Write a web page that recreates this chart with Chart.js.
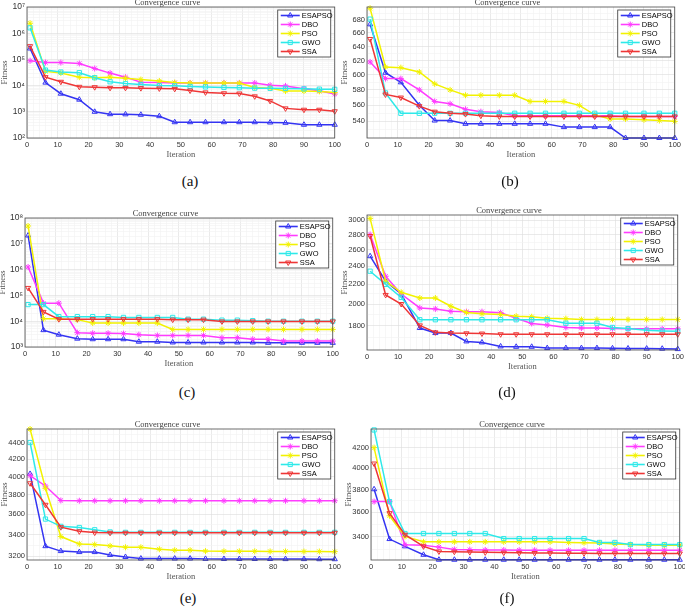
<!DOCTYPE html>
<html>
<head>
<meta charset="utf-8">
<title>Convergence curves</title>
<script src="https://cdn.jsdelivr.net/npm/chart.js"></script>
<style>
    body { margin: 0; width: 685px; height: 609px; overflow: hidden; background: #fff; position: relative; }
    .panel { position: absolute; }
    .cap { position: absolute; font-family: "Liberation Serif", "Times New Roman", serif; font-size: 15px; color: #111; transform: translate(-50%, -50%); }
</style>
</head>
<body>
<script>
// iterations where the curves are sampled (markers)
let iterations = [1, 6, 11, 17, 22, 27, 32, 37, 43, 48, 53, 58, 64, 69, 74, 79, 84, 90, 95, 100];
let algorithms = ['ESAPSO', 'DBO', 'PSO', 'GWO', 'SSA'];
let xTicks = [0, 10, 20, 30, 40, 50, 60, 70, 80, 90, 100];

// (a)
let aESAPSO = [2.6e5, 1.3e4, 4.9e3, 2.9e3, 1.0e3, 8.1e2, 8.0e2, 7.7e2, 6.8e2, 4.0e2, 4.0e2, 4.0e2, 4.0e2, 4.0e2, 4.0e2, 3.9e2, 3.8e2, 3.2e2, 3.2e2, 3.2e2];
let aDBO    = [8.9e4, 7.6e4, 7.6e4, 7.0e4, 4.5e4, 3.0e4, 2.1e4, 1.35e4, 1.3e4, 1.27e4, 1.27e4, 1.27e4, 1.27e4, 1.27e4, 1.25e4, 1.03e4, 9.7e3, 7.6e3, 6.3e3, 4.8e3];
let aPSO    = [2.4e6, 3.5e4, 3.0e4, 2.1e4, 2.0e4, 2.1e4, 1.9e4, 1.7e4, 1.5e4, 1.3e4, 1.25e4, 1.25e4, 1.25e4, 1.25e4, 8.5e3, 8.0e3, 6.2e3, 6.2e3, 6.0e3, 5.5e3];
let aGWO    = [1.6e6, 3.9e4, 3.3e4, 3.1e4, 2.0e4, 1.4e4, 1.2e4, 1.1e4, 1.0e4, 9.8e3, 9.3e3, 8.9e3, 8.5e3, 8.3e3, 8.0e3, 7.9e3, 7.8e3, 7.5e3, 7.3e3, 7.2e3];
let aSSA    = [3.2e5, 2.1e4, 1.4e4, 9.0e3, 8.7e3, 8.2e3, 8.2e3, 8.0e3, 7.8e3, 7.5e3, 6.5e3, 5.5e3, 5.1e3, 5.0e3, 3.9e3, 2.6e3, 1.35e3, 1.2e3, 1.2e3, 1.05e3];
let aTicks  = [1e2, 1e3, 1e4, 1e5, 1e6, 1e7];

// (b)
let bESAPSO = [673, 603, 590, 560, 541, 541, 537, 537, 537, 537, 537, 537, 533, 533, 533, 533, 520, 520, 520, 520];
let bDBO    = [618, 595, 595, 580, 565, 562, 555, 552, 551, 547, 547, 547, 547, 547, 547, 547, 546, 546, 546, 546];
let bPSO    = [698, 611, 610, 604, 588, 580, 573, 573, 573, 573, 565, 565, 565, 560, 548, 543, 543, 542, 541, 540];
let bGWO    = [681, 576, 550, 550, 550, 550, 550, 550, 550, 550, 550, 550, 550, 550, 550, 550, 550, 550, 550, 550];
let bSSA    = [651, 574, 570, 559, 552, 550, 549, 547, 546, 546, 546, 546, 546, 546, 546, 546, 546, 546, 546, 546];
let bTicks  = [540, 560, 580, 600, 620, 640, 660, 680];

// (c)
let cESAPSO = [2.1e7, 4.5e3, 3.0e3, 2.1e3, 2.0e3, 2.0e3, 2.0e3, 1.6e3, 1.6e3, 1.5e3, 1.5e3, 1.5e3, 1.5e3, 1.5e3, 1.5e3, 1.45e3, 1.45e3, 1.45e3, 1.45e3, 1.45e3];
let cDBO    = [1.26e6, 5.0e4, 5.0e4, 3.6e3, 3.4e3, 3.4e3, 3.3e3, 3.0e3, 2.8e3, 2.8e3, 2.8e3, 2.8e3, 2.3e3, 2.3e3, 2.0e3, 2.0e3, 1.7e3, 1.7e3, 1.7e3, 1.7e3];
let cPSO    = [4.9e7, 1.25e4, 1.25e4, 1.15e4, 8.5e3, 8.5e3, 8.5e3, 8.5e3, 8.5e3, 4.8e3, 4.8e3, 4.8e3, 4.8e3, 4.8e3, 4.8e3, 4.8e3, 4.8e3, 4.8e3, 4.8e3, 4.8e3];
let cGWO    = [4.4e4, 4.4e4, 1.5e4, 1.5e4, 1.5e4, 1.5e4, 1.4e4, 1.4e4, 1.4e4, 1.4e4, 1.2e4, 1.2e4, 1.1e4, 1.1e4, 1.05e4, 1.0e4, 1.0e4, 1.0e4, 1.0e4, 1.0e4];
let cSSA    = [1.95e5, 2.3e4, 1.2e4, 1.2e4, 1.2e4, 1.2e4, 1.2e4, 1.2e4, 1.2e4, 1.15e4, 1.15e4, 1.15e4, 9.8e3, 9.8e3, 9.8e3, 9.8e3, 9.8e3, 9.8e3, 9.8e3, 9.8e3];
let cTicks  = [1e3, 1e4, 1e5, 1e6, 1e7, 1e8];

// (d)
let dESAPSO = [2522, 2234, 2099, 1780, 1737, 1737, 1668, 1660, 1628, 1625, 1625, 1615, 1615, 1615, 1615, 1613, 1612, 1611, 1610, 1607];
let dDBO    = [2802, 2288, 2099, 1962, 1953, 1930, 1927, 1927, 1918, 1866, 1820, 1806, 1785, 1780, 1780, 1775, 1773, 1773, 1773, 1773];
let dPSO    = [3030, 2234, 2117, 2059, 2059, 1978, 1920, 1908, 1900, 1885, 1880, 1866, 1863, 1855, 1855, 1855, 1855, 1855, 1855, 1855];
let dGWO    = [2345, 2200, 2065, 1853, 1853, 1853, 1853, 1853, 1853, 1853, 1853, 1853, 1822, 1822, 1822, 1785, 1775, 1760, 1755, 1752];
let dSSA    = [2782, 2090, 2000, 1803, 1743, 1737, 1735, 1733, 1727, 1727, 1727, 1727, 1727, 1727, 1727, 1727, 1727, 1727, 1727, 1727];
let dTicks  = [1800, 2000, 2200, 2400, 2600, 2800, 3000];

// (e)
let eESAPSO = [4029, 3290, 3245, 3236, 3236, 3210, 3192, 3178, 3178, 3178, 3178, 3175, 3174, 3174, 3174, 3174, 3173, 3173, 3172, 3172];
let eDBO    = [4010, 3895, 3740, 3737, 3737, 3737, 3737, 3737, 3737, 3737, 3737, 3737, 3737, 3737, 3737, 3737, 3737, 3737, 3737, 3737];
let ePSO    = [4570, 3870, 3380, 3311, 3305, 3293, 3280, 3280, 3262, 3253, 3253, 3245, 3243, 3243, 3243, 3242, 3242, 3241, 3241, 3240];
let eGWO    = [4400, 3550, 3478, 3467, 3445, 3424, 3420, 3420, 3420, 3420, 3420, 3420, 3420, 3420, 3420, 3420, 3420, 3420, 3420, 3420];
let eSSA    = [3925, 3695, 3470, 3430, 3418, 3416, 3416, 3416, 3416, 3416, 3416, 3416, 3416, 3416, 3416, 3416, 3416, 3416, 3416, 3416];
let eTicks  = [3200, 3400, 3600, 3800, 4000, 4200, 4400];

// (f)
let fESAPSO = [3804, 3379, 3321, 3255, 3217, 3217, 3217, 3217, 3217, 3217, 3217, 3217, 3217, 3217, 3217, 3217, 3217, 3217, 3217, 3217];
let fDBO    = [3694, 3694, 3334, 3330, 3315, 3297, 3295, 3293, 3292, 3291, 3291, 3290, 3290, 3290, 3290, 3290, 3290, 3290, 3290, 3290];
let fPSO    = [4200, 3571, 3400, 3357, 3357, 3357, 3357, 3357, 3357, 3357, 3357, 3357, 3352, 3350, 3348, 3340, 3335, 3330, 3330, 3330];
let fGWO    = [4380, 3694, 3424, 3424, 3424, 3424, 3424, 3424, 3383, 3383, 3383, 3383, 3383, 3383, 3352, 3352, 3335, 3335, 3335, 3335];
let fSSA    = [4044, 3594, 3414, 3321, 3281, 3279, 3276, 3274, 3272, 3270, 3269, 3268, 3267, 3267, 3266, 3266, 3265, 3265, 3265, 3265];
let fTicks  = [3400, 3600, 3800, 4000, 4200];

// line / marker look per algorithm
let styles = {
    ESAPSO: { color: '#3434f2', point: 'triangle', rot: 0 },
    DBO:    { color: '#ff3cff', point: 'star',     rot: 0 },
    PSO:    { color: '#f2f200', point: 'star',     rot: 0 },
    GWO:    { color: '#2ee9e9', point: 'rect',     rot: 0 },
    SSA:    { color: '#ee3636', point: 'triangle', rot: 180 }
};

// plot area of each panel (L, R, T, B) and y range, caption position
let panels = [
    { cap: '(a)', series: [aESAPSO, aDBO, aPSO, aGWO, aSSA], ticks: aTicks, decades: true,  min: 100,  max: 1e7,  L: 27,  R: 335, T: 7,   B: 138, cx: 190, cy: 181 },
    { cap: '(b)', series: [bESAPSO, bDBO, bPSO, bGWO, bSSA], ticks: bTicks, decades: false, min: 520,  max: 700,  L: 367, R: 675, T: 7,   B: 138, cx: 510, cy: 181 },
    { cap: '(c)', series: [cESAPSO, cDBO, cPSO, cGWO, cSSA], ticks: cTicks, decades: true,  min: 1e3,  max: 1e8,  L: 25,  R: 333, T: 218, B: 347, cx: 187, cy: 392 },
    { cap: '(d)', series: [dESAPSO, dDBO, dPSO, dGWO, dSSA], ticks: dTicks, decades: false, min: 1600, max: 3080, L: 367, R: 678, T: 215, B: 350, cx: 507, cy: 392 },
    { cap: '(e)', series: [eESAPSO, eDBO, ePSO, eGWO, eSSA], ticks: eTicks, decades: false, min: 3165, max: 4570, L: 27,  R: 335, T: 429, B: 560, cx: 188, cy: 598 },
    { cap: '(f)', series: [fESAPSO, fDBO, fPSO, fGWO, fSSA], ticks: fTicks, decades: false, min: 3215, max: 4390, L: 371, R: 680, T: 429, B: 560, cx: 507, cy: 598 }
];

const serif = '"Liberation Serif", "Times New Roman", serif';
const sans = '"Liberation Sans", Arial, sans-serif';
Chart.defaults.font.family = sans;
Chart.defaults.color = '#333';

const supDigits = { '0': '⁰', '1': '¹', '2': '²', '3': '³', '4': '⁴', '5': '⁵', '6': '⁶', '7': '⁷', '8': '⁸', '9': '⁹' };
function powerLabel(v) {
    let e = String(Math.round(Math.log10(v)));
    return '10' + e.split('').map(c => supDigits[c]).join('');
}

// major ticks from the arrays, minor ones in between (only for the grid)
function tickList(major, min, max, decades) {
    let out = major.map(v => ({ value: v, major: true }));
    if (decades) {
        for (let i = 0; i < major.length - 1; i++)
            for (let k = 2; k < 10; k++) out.push({ value: major[i] * k, major: false });
    } else {
        let step = major[1] - major[0];
        for (let v = major[0] - step / 2; v <= max; v += step)
            if (v >= min) out.push({ value: v, major: false });
    }
    out = out.filter(t => t.value >= min - 1e-9 && t.value <= max + 1e-9);
    out.sort((a, b) => a.value - b.value);
    return out;
}

function xTickList() {
    let out = [];
    for (let v = 0; v <= 100; v += 2) out.push({ value: v, major: xTicks.includes(v) });
    return out;
}

function drawMarker(ctx, kind, rot, x, y, r) {
    ctx.beginPath();
    if (kind === 'triangle') {
        let s = rot ? -1 : 1;
        ctx.moveTo(x, y - s * r);
        ctx.lineTo(x + r * 0.87, y + s * r * 0.5);
        ctx.lineTo(x - r * 0.87, y + s * r * 0.5);
        ctx.closePath();
    } else if (kind === 'rect') {
        let h = r * 0.7;
        ctx.rect(x - h, y - h, 2 * h, 2 * h);
    } else {
        ctx.moveTo(x - r, y); ctx.lineTo(x + r, y);
        ctx.moveTo(x, y - r); ctx.lineTo(x, y + r);
        let d = r * 0.7;
        ctx.moveTo(x - d, y - d); ctx.lineTo(x + d, y + d);
        ctx.moveTo(x - d, y + d); ctx.lineTo(x + d, y - d);
    }
    ctx.stroke();
}

// box round the plot and the legend in the upper right corner
const frameLegend = {
    id: 'frameLegend',
    afterDraw(chart) {
        const ctx = chart.ctx;
        const a = chart.chartArea;
        ctx.save();
        ctx.strokeStyle = '#4a4a4a';
        ctx.lineWidth = 0.8;
        ctx.strokeRect(a.left, a.top, a.right - a.left, a.bottom - a.top);

        const w = 53, h = 47;
        const x = a.right - 4 - w, y = a.top + 3;
        ctx.fillStyle = '#fff';
        ctx.fillRect(x, y, w, h);
        ctx.strokeStyle = '#333';
        ctx.lineWidth = 0.8;
        ctx.strokeRect(x, y, w, h);
        ctx.font = '7.5px ' + sans;
        ctx.textBaseline = 'middle';
        algorithms.forEach((name, i) => {
            const st = styles[name];
            const ly = y + 5.5 + i * 9;
            ctx.strokeStyle = st.color;
            ctx.lineWidth = 1.6;
            ctx.beginPath();
            ctx.moveTo(x + 3, ly);
            ctx.lineTo(x + 22, ly);
            ctx.stroke();
            ctx.lineWidth = 1;
            drawMarker(ctx, st.point, st.rot, x + 12.5, ly, 3);
            ctx.fillStyle = '#000';
            ctx.fillText(name, x + 24, ly);
        });
        ctx.restore();
    }
};

const yAxisW = 27, xAxisH = 22, titleH = 9, padRight = 8;

panels.forEach(p => {
    const left = p.L - yAxisW;
    const top = p.T - titleH;
    const width = Math.round(p.R + padRight - left);
    const height = Math.round(p.B + xAxisH - top);

    const box = document.createElement('div');
    box.className = 'panel';
    box.style.left = left + 'px';
    box.style.top = top + 'px';
    const canvas = document.createElement('canvas');
    canvas.width = width;
    canvas.height = height;
    canvas.style.width = width + 'px';
    canvas.style.height = height + 'px';
    box.appendChild(canvas);
    document.body.appendChild(box);

    const cap = document.createElement('div');
    cap.className = 'cap';
    cap.style.left = p.cx + 'px';
    cap.style.top = p.cy + 'px';
    cap.textContent = p.cap;
    document.body.appendChild(cap);

    const datasets = algorithms.map((name, k) => {
        const st = styles[name];
        return {
            label: name,
            data: iterations.map((it, i) => ({ x: it, y: p.series[k][i] })),
            borderColor: st.color,
            borderWidth: 1.5,
            pointStyle: st.point,
            pointRotation: st.rot,
            pointRadius: 3,
            pointBorderWidth: 1,
            pointBorderColor: st.color,
            pointBackgroundColor: 'rgba(255,255,255,0)',
            tension: 0,
            clip: 6,
            order: algorithms.length - k
        };
    });

    const yList = tickList(p.ticks, p.min, p.max, p.decades);

    new Chart(canvas.getContext('2d'), {
        type: 'line',
        data: { datasets: datasets },
        plugins: [frameLegend],
        options: {
            responsive: false,
            animation: false,
            layout: { padding: { left: 0, right: padRight, top: 0, bottom: 0 } },
            plugins: {
                legend: { display: false },
                tooltip: { enabled: false },
                title: {
                    display: true,
                    text: 'Convergence curve',
                    color: '#444',
                    font: { family: serif, size: 8.5, weight: 'normal', lineHeight: 1 },
                    padding: { top: 0.5, bottom: 0 }
                }
            },
            scales: {
                x: {
                    type: 'linear',
                    min: 0,
                    max: 100,
                    afterBuildTicks: s => { s.ticks = xTickList(); },
                    afterFit: s => { s.height = xAxisH; },
                    ticks: {
                        autoSkip: false,
                        maxRotation: 0,
                        padding: 2,
                        font: { size: 7.5 },
                        color: '#333',
                        callback: (v, i, t) => t[i].major ? String(v) : ''
                    },
                    grid: {
                        drawTicks: false,
                        lineWidth: 0.6,
                        color: c => (c.tick && c.tick.major) ? '#dcdcdc' : '#f1f1f1'
                    },
                    border: { display: false },
                    title: {
                        display: true,
                        text: 'Iteration',
                        color: '#555',
                        font: { family: serif, size: 8.5, lineHeight: 1.2 },
                        padding: { top: 0.5, bottom: 0 }
                    }
                },
                y: {
                    type: 'logarithmic',
                    min: p.min,
                    max: p.max,
                    afterBuildTicks: s => { s.ticks = yList.map(t => ({ value: t.value, major: t.major })); },
                    afterFit: s => { s.width = yAxisW; },
                    ticks: {
                        autoSkip: false,
                        padding: 2,
                        font: { size: p.decades ? 8.5 : 7.5 },
                        color: '#333',
                        callback: (v, i, t) => t[i].major ? (p.decades ? powerLabel(v) : String(v)) : ''
                    },
                    grid: {
                        drawTicks: false,
                        lineWidth: 0.6,
                        color: c => (c.tick && c.tick.major) ? '#dcdcdc' : '#f1f1f1'
                    },
                    border: { display: false },
                    title: {
                        display: true,
                        text: 'Fitness',
                        color: '#555',
                        font: { family: serif, size: 8.5, lineHeight: 1.1 },
                        padding: { top: 0, bottom: 1 }
                    }
                }
            }
        }
    });
});
</script>
</body>
</html>
